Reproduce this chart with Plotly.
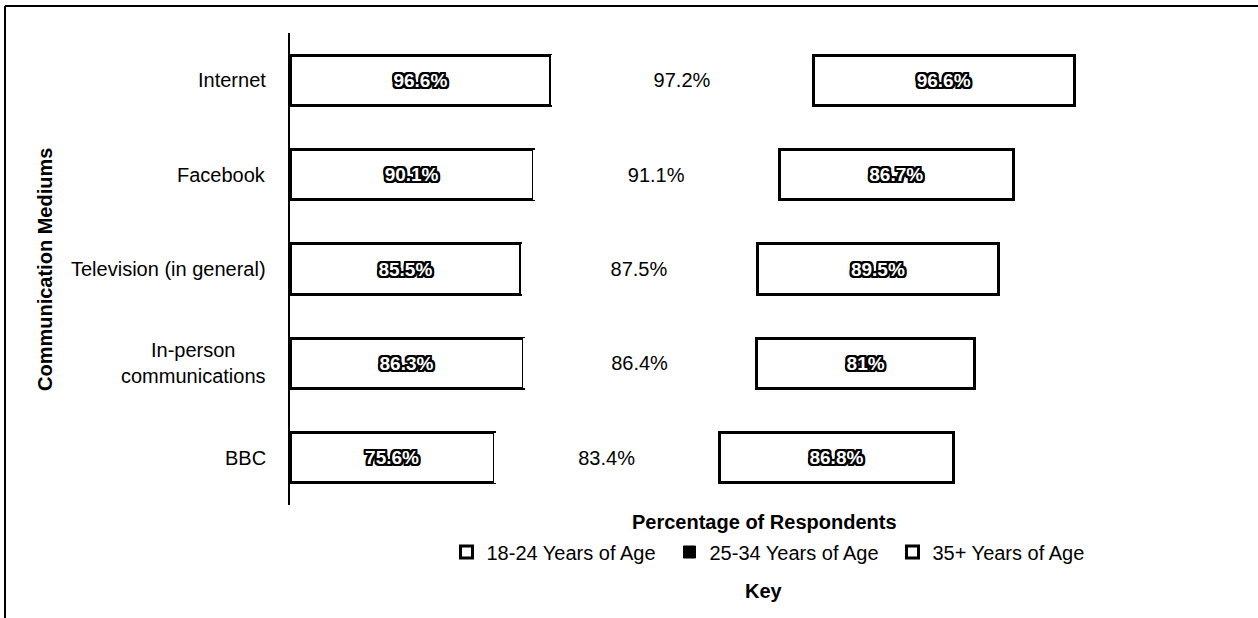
import plotly.graph_objects as go

categories = ["Internet", "Facebook", "Television (in general)", "In-person<br>communications", "BBC"]
age_18_24 = [96.6, 90.1, 85.5, 86.3, 75.6]
age_25_34 = [97.2, 91.1, 87.5, 86.4, 83.4]
age_35_plus = [96.6, 86.7, 89.5, 81.0, 86.8]
series_names = ["18-24 Years of Age", "25-34 Years of Age", "35+ Years of Age"]


def fmt(v):
    return f"{v:g}%"


FONT = "Liberation Sans, Arial, sans-serif"
offs = [(-2, -2), (2, -2), (-2, 2), (2, 2), (0, -2), (0, 2), (-2, 0), (2, 0),
        (-1, -2), (1, -2), (-1, 2), (1, 2), (-2, -1), (-2, 1), (2, -1), (2, 1)]
outline = ", ".join(f"{a}px {b}px 0 #000" for a, b in offs)

fig = go.Figure()

fig.add_trace(go.Bar(
    y=categories, x=age_18_24, orientation="h", name=series_names[0],
    marker=dict(color="white", line=dict(color="black", width=3)),
    text=[fmt(v) for v in age_18_24], textposition="inside", insidetextanchor="middle",
    textfont=dict(family=FONT, size=19, color="white", shadow=outline, weight="bold"),
    legendrank=1, hoverinfo="skip",
))
fig.add_trace(go.Bar(
    y=categories, x=age_25_34, orientation="h", name=series_names[1],
    marker=dict(color="white", line=dict(color="white", width=0)),
    text=[fmt(v) for v in age_25_34], textposition="inside", insidetextanchor="middle",
    textfont=dict(family=FONT, size=20, color="black"),
    showlegend=False, hoverinfo="skip",
))
fig.add_trace(go.Bar(
    y=categories, x=age_35_plus, orientation="h", name=series_names[2],
    marker=dict(color="white", line=dict(color="black", width=3)),
    text=[fmt(v) for v in age_35_plus], textposition="inside", insidetextanchor="middle",
    textfont=dict(family=FONT, size=19, color="white", shadow=outline, weight="bold"),
    legendrank=3, hoverinfo="skip",
))
# legend-only entry for the dark 25-34 swatch
fig.add_trace(go.Bar(
    y=[None], x=[None], orientation="h", name=series_names[1],
    marker=dict(color="black", line=dict(color="black", width=1)),
    legendrank=2, hoverinfo="skip",
))

L, R, T, B = 290, 58, 33, 113
W, H = 1258, 618
pw, ph = W - L - R, H - T - B


def px_x(x):
    return (x - L) / pw


def px_y(y):
    return (H - B - y) / ph


annotations = [
    dict(text=c, xref="paper", yref="y", x=px_x(268), y=c, xanchor="right", yanchor="middle",
         align="center", showarrow=False, font=dict(size=20))
    for c in categories
]
annotations += [
    dict(text="<b>Percentage of Respondents</b>", xref="paper", yref="paper",
         x=px_x(764), y=px_y(522), xanchor="center", yanchor="middle", showarrow=False,
         font=dict(size=20)),
    dict(text="<b>Key</b>", xref="paper", yref="paper",
         x=px_x(764), y=px_y(591), xanchor="center", yanchor="middle", showarrow=False,
         font=dict(size=20)),
    dict(text="<b>Communication Mediums</b>", xref="paper", yref="paper", textangle=-90,
         x=px_x(45), y=px_y(270), xanchor="center", yanchor="middle", showarrow=False,
         font=dict(size=20)),
]

fig.update_layout(
    width=W, height=H,
    barmode="stack", bargap=0.47,
    paper_bgcolor="white", plot_bgcolor="white",
    margin=dict(l=L, r=R, t=T, b=B),
    font=dict(family=FONT, size=20, color="black"),
    showlegend=True,
    legend=dict(orientation="h", x=px_x(781), xanchor="center", y=px_y(552), yanchor="middle",
                font=dict(size=20), entrywidth=178, traceorder="normal",
                itemclick=False, itemdoubleclick=False),
    xaxis=dict(range=[0, pw / 2.7], showgrid=False, zeroline=False, showticklabels=False,
               showline=False, ticks=""),
    yaxis=dict(categoryorder="array", categoryarray=categories, autorange="reversed",
               showgrid=False, zeroline=False, showline=True, linecolor="black", linewidth=2,
               ticks="", showticklabels=False),
    annotations=annotations,
    shapes=[
        dict(type="line", xref="paper", yref="paper", x0=px_x(5), x1=px_x(1258),
             y0=px_y(6), y1=px_y(6), line=dict(color="black", width=2)),
        dict(type="line", xref="paper", yref="paper", x0=px_x(5), x1=px_x(5),
             y0=px_y(6), y1=px_y(618), line=dict(color="black", width=2)),
    ],
)

fig.write_html("out.html", config={"displayModeBar": False},
               post_script="document.body.style.margin='0';document.body.style.padding='0';")
